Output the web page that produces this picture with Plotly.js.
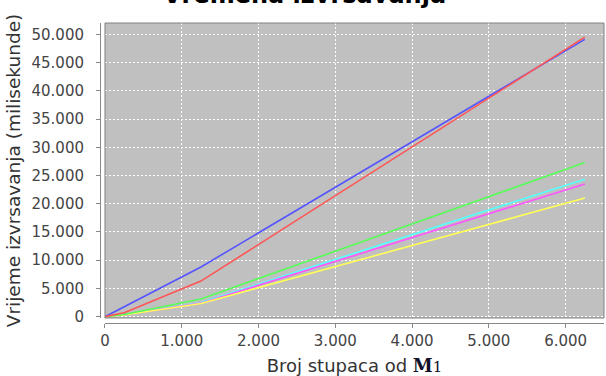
<!DOCTYPE html>
<html><head><meta charset="utf-8">
<script src="https://cdn.plot.ly/plotly-3.0.1.min.js"></script>
<style>html,body{margin:0;padding:0;background:#fff}#chart{width:606px;height:376px}</style>
</head><body><div id="chart"></div>
<script>
var columns = [0, 250, 1250, 6250];
var seriesNames = ["s1", "s2", "s3", "s4", "s5", "s6"];
var redValues = [0, 700, 6300, 49500];
var blueValues = [0, 1750, 8800, 49100];
var greenValues = [0, 400, 3130, 27300];
var yellowValues = [0, 300, 2350, 21000];
var magentaValues = [0, 300, 2400, 23500];
var cyanValues = [0, 300, 2500, 24350];
var xTickValues = [0, 1000, 2000, 3000, 4000, 5000, 6000];
var yTickValues = [0, 5000, 10000, 15000, 20000, 25000, 30000, 35000, 40000, 45000, 50000];
var chartTitle = 'Vremena izvrsavanja';

function tr(y, color, name) {
  return {x: columns, y: y, type: 'scatter', mode: 'lines', name: name,
    line: {color: color, width: 1.6}, hoverinfo: 'skip'};
}
var data = [
  tr(cyanValues, '#55ffff', seriesNames[5]),
  tr(magentaValues, '#ff55ff', seriesNames[4]),
  tr(yellowValues, '#ffff55', seriesNames[3]),
  tr(greenValues, '#55ff55', seriesNames[2]),
  tr(blueValues, '#5555ff', seriesNames[1]),
  tr(redValues, '#ff5555', seriesNames[0])
];
var tickFont = {family: 'DejaVu Sans', size: 15, color: '#444'};
var layout = {
  width: 606, height: 376,
  margin: {l: 100, r: 2, t: 23, b: 53},
  paper_bgcolor: '#ffffff',
  plot_bgcolor: '#c0c0c0',
  showlegend: false,
  separators: ',.',
  annotations: [{text: '<b>' + chartTitle + '</b>', xref: 'paper', yref: 'paper', x: 0.405, y: 1,
    xanchor: 'center', yanchor: 'bottom', yshift: 12, showarrow: false,
    font: {family: 'DejaVu Sans', size: 24, color: '#000'}}],
  xaxis: {
    domain: [0.0099, 1], anchor: 'free', position: 0,
    range: [0, 6500], tickvals: xTickValues, tickformat: ',d',
    ticks: 'outside', ticklen: 4, tickcolor: '#888', tickfont: tickFont,
    showline: true, linecolor: '#888', linewidth: 1,
    showgrid: true, gridcolor: '#ffffff', griddash: '2px,2px', gridwidth: 1,
    zeroline: false,
    title: {text: 'Broj stupaca od <b><span style="font-family:DejaVu Serif;color:#10102a">M</span></b><span style="font-family:DejaVu Serif;color:#10102a;font-size:15px">1</span>',
      font: {family: 'DejaVu Sans', size: 18, color: '#333'}, standoff: 10}
  },
  yaxis: {
    domain: [0.0167, 1], anchor: 'free', position: 0,
    range: [-230, 52000], tickvals: yTickValues, tickformat: ',d',
    ticks: 'outside', ticklen: 4, tickcolor: '#888', tickfont: tickFont,
    ticklabelstandoff: 9,
    showline: true, linecolor: '#888', linewidth: 1,
    showgrid: true, gridcolor: '#ffffff', griddash: '2px,2px', gridwidth: 1,
    zeroline: false,
    title: {text: 'Vrijeme izvrsavanja (milisekunde)', font: {family: 'DejaVu Sans', size: 18.5, color: '#333'}, standoff: 5}
  },
  shapes: [{type: 'rect', xref: 'x domain', yref: 'y domain', x0: 0, x1: 1, y0: 0, y1: 1,
    line: {color: '#808080', width: 1}, fillcolor: 'rgba(0,0,0,0)', layer: 'above'}]
};
Plotly.newPlot('chart', data, layout, {staticPlot: true, displayModeBar: false});
</script></body></html>
